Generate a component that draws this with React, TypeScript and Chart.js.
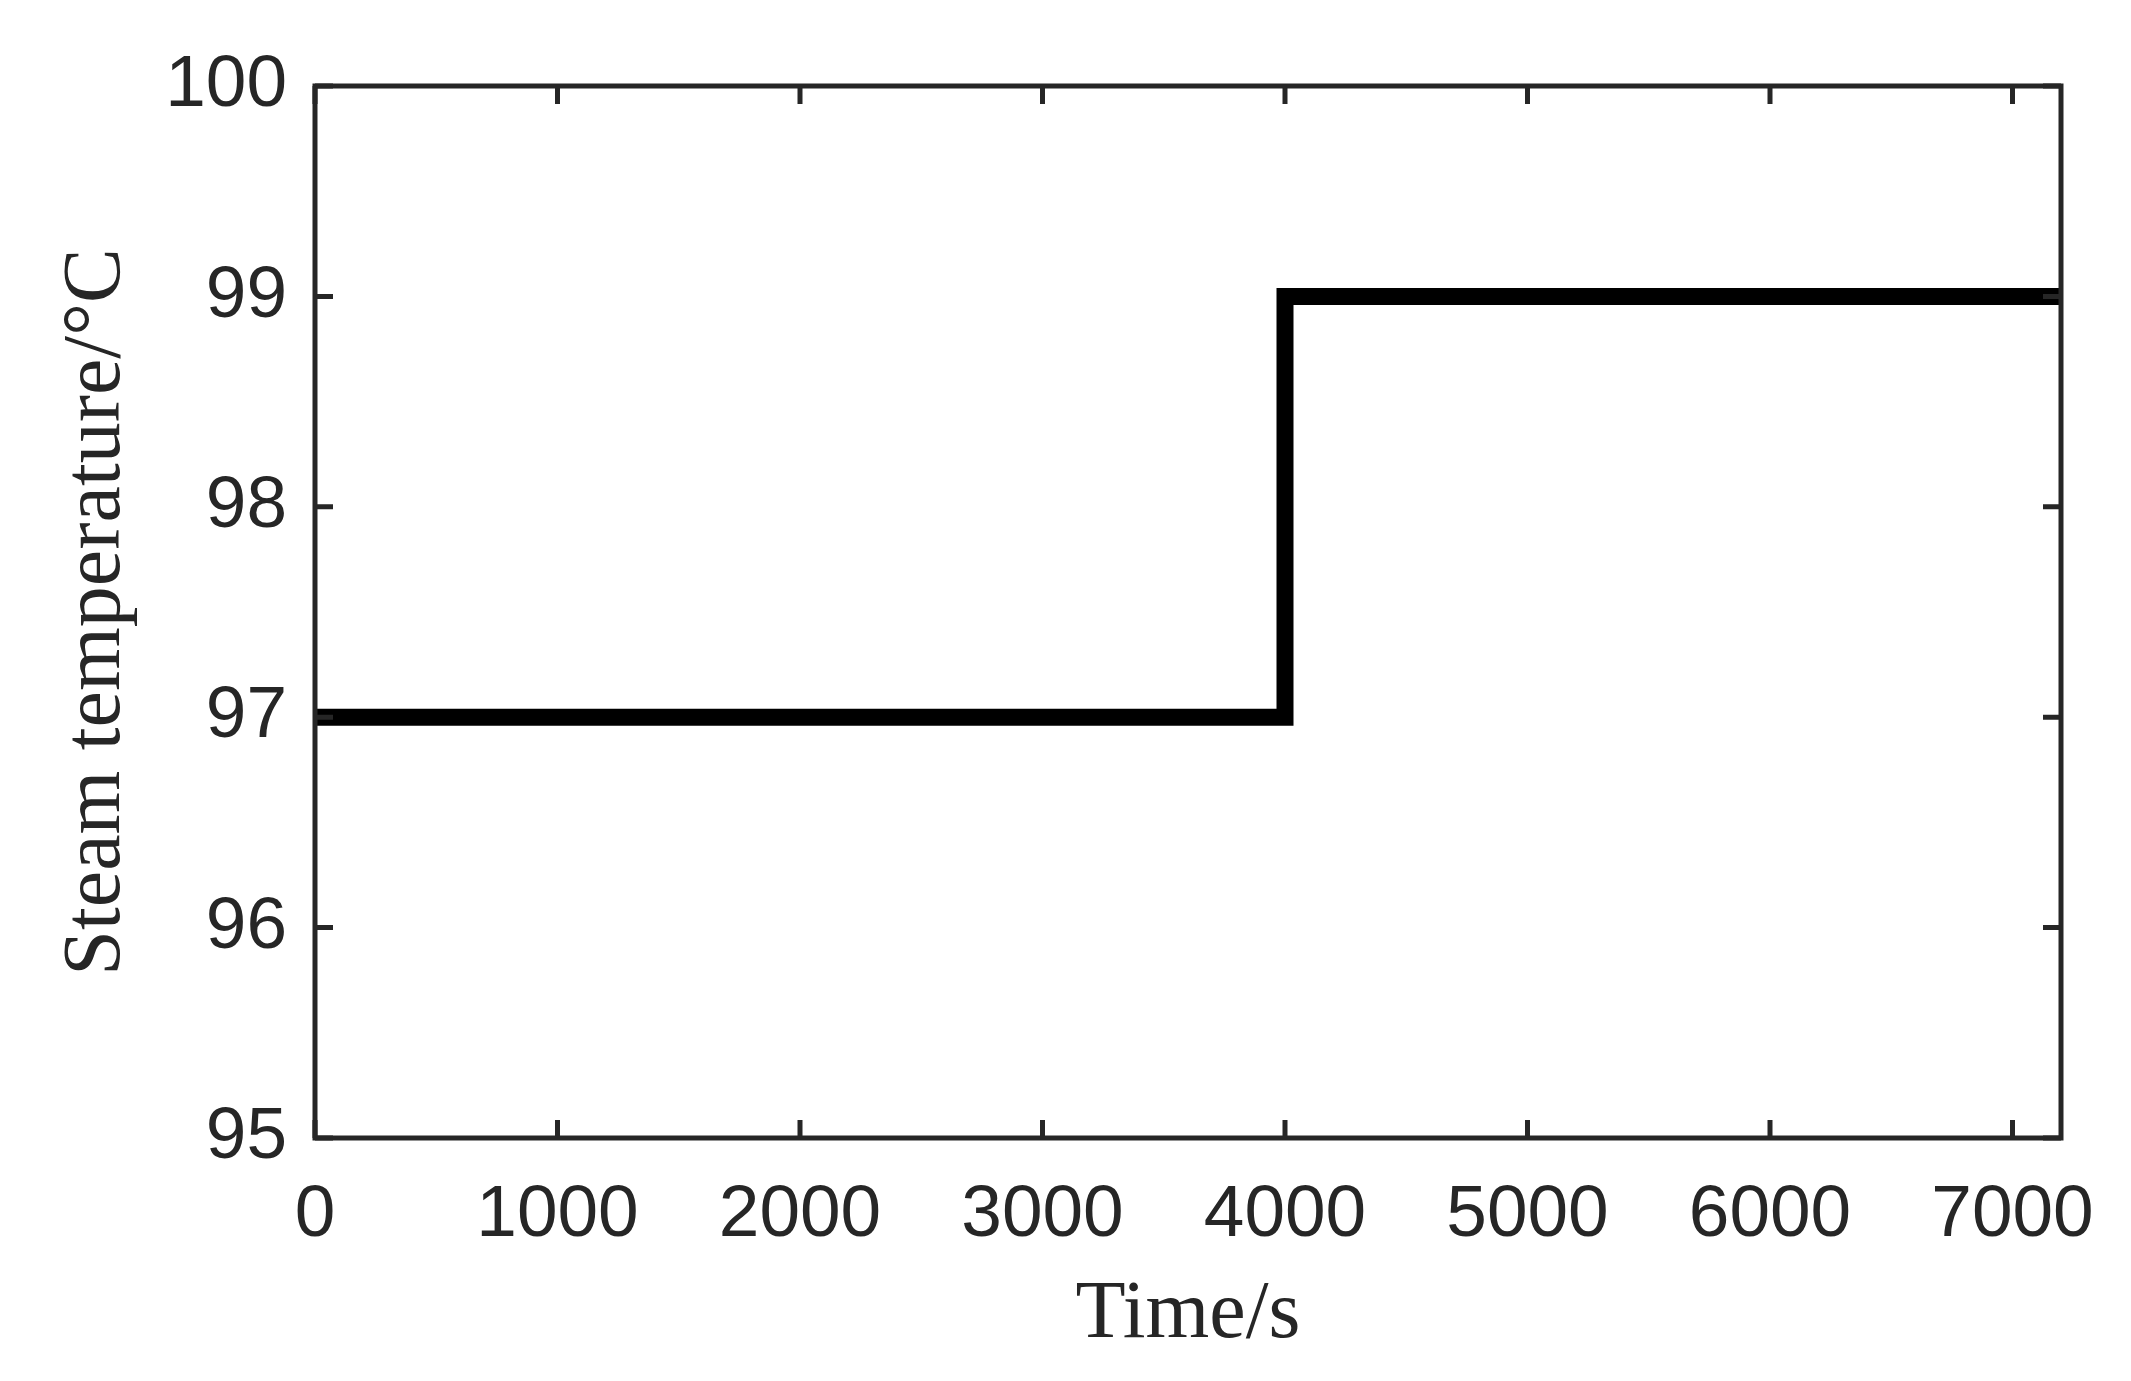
import React, { useEffect, useRef } from "react";
import { Chart, registerables } from "chart.js";

Chart.register(...registerables);

const timeValues = [0, 4000, 4000, 7200];
const steamTemps = [97, 97, 99, 99];
const xTicks = [0, 1000, 2000, 3000, 4000, 5000, 6000, 7000];
const yTicks = [95, 96, 97, 98, 99, 100];

const AXIS = "#262626";

const framePlugin = {
  id: "matlabFrame",
  afterDraw(chart: any) {
    const { ctx, chartArea } = chart;
    const { left, right, top, bottom } = chartArea;
    const xs = chart.scales.x;
    const ys = chart.scales.y;
    const tl = 18;
    ctx.save();
    ctx.strokeStyle = AXIS;
    ctx.lineWidth = 5;
    ctx.lineCap = "butt";
    ctx.beginPath();
    for (const v of xTicks) {
      const px = xs.getPixelForValue(v);
      ctx.moveTo(px, bottom);
      ctx.lineTo(px, bottom - tl);
      ctx.moveTo(px, top);
      ctx.lineTo(px, top + tl);
    }
    for (const v of yTicks) {
      const py = ys.getPixelForValue(v);
      ctx.moveTo(left, py);
      ctx.lineTo(left + tl, py);
      ctx.moveTo(right, py);
      ctx.lineTo(right - tl, py);
    }
    ctx.stroke();
    ctx.lineJoin = "miter";
    ctx.strokeRect(left, top, right - left, bottom - top);
    ctx.restore();
  },
};

export default function App() {
  const ref = useRef<HTMLCanvasElement | null>(null);
  useEffect(() => {
    document.body.style.margin = "0";
    const canvas = ref.current;
    if (!canvas) return;
    const chart = new Chart(canvas, {
      type: "line",
      data: {
        datasets: [
          {
            data: timeValues.map((t, i) => ({ x: t, y: steamTemps[i] })),
            borderColor: "#000000",
            borderWidth: 17,
            pointRadius: 0,
            fill: false,
            tension: 0,
            borderJoinStyle: "miter",
          },
        ],
      },
      options: {
        responsive: false,
        animation: false,
        devicePixelRatio: 1,
        layout: { padding: { left: 0, top: 86, right: 70, bottom: 0 } },
        plugins: { legend: { display: false }, tooltip: { enabled: false } },
        scales: {
          x: {
            type: "linear",
            min: 0,
            max: 7200,
            afterFit: (s: any) => {
              s.height = 1381 - 1138;
              s.paddingLeft = 0;
              s.paddingRight = 0;
            },
            afterBuildTicks: (s: any) => {
              s.ticks = xTicks.map((v) => ({ value: v }));
            },
            grid: { display: false, drawTicks: false },
            border: { display: false },
            ticks: {
              color: AXIS,
              font: { family: "Liberation Sans", size: 73 },
              padding: 34,
              maxRotation: 0,
              autoSkip: false,
              callback: (v: any) => String(v),
            },
            title: {
              display: true,
              text: "Time/s",
              color: AXIS,
              font: { family: "Liberation Serif", size: 82 },
              padding: { top: 0, bottom: 16 },
            },
          },
          y: {
            type: "linear",
            min: 95,
            max: 100,
            afterFit: (s: any) => {
              s.width = 315;
              s.paddingTop = 0;
              s.paddingBottom = 0;
            },
            afterBuildTicks: (s: any) => {
              s.ticks = yTicks.map((v) => ({ value: v }));
            },
            grid: { display: false, drawTicks: false },
            border: { display: false },
            ticks: {
              color: AXIS,
              font: { family: "Liberation Sans", size: 73 },
              padding: 28,
              autoSkip: false,
              callback: (v: any) => String(v),
            },
            title: {
              display: true,
              text: "Steam temperature/°C",
              color: AXIS,
              font: { family: "Liberation Serif", size: 82 },
              padding: { top: 48, bottom: 0 },
            },
          },
        },
      },
      plugins: [framePlugin],
    } as any);
    return () => chart.destroy();
  }, []);
  return (
    <div style={{ width: 2131, height: 1381, background: "#fff" }}>
      <canvas ref={ref} width={2131} height={1381} />
    </div>
  );
}
